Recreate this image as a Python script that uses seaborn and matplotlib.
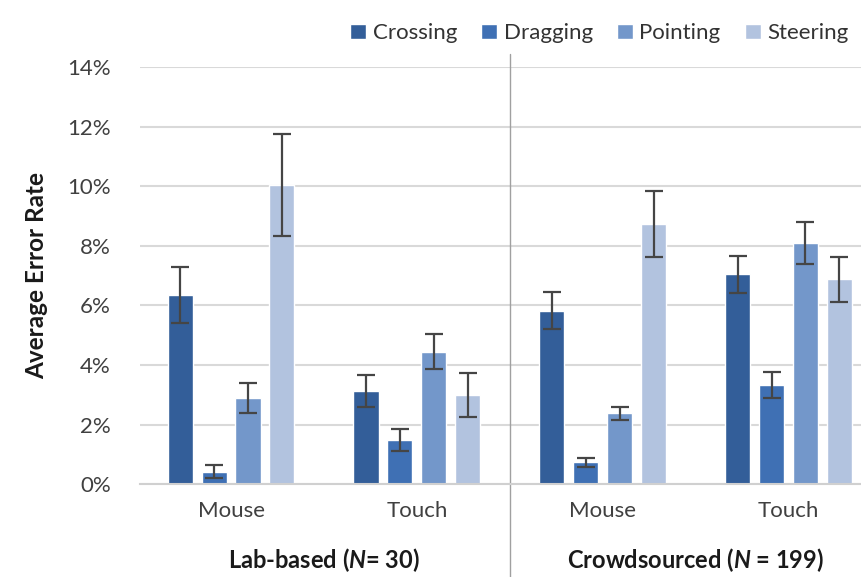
import numpy as np
import pandas as pd
import matplotlib
matplotlib.use('Agg')
import matplotlib.pyplot as plt
import matplotlib.transforms as mtransforms
from matplotlib.ticker import FuncFormatter
import seaborn as sns

# ---- data ----
conditions = ['Lab Mouse', 'Lab Touch', 'Crowd Mouse', 'Crowd Touch']
tick_labels = ['Mouse', 'Touch', 'Mouse', 'Touch']
tasks = ['Crossing', 'Dragging', 'Pointing', 'Steering']
crossing = [6.35, 3.12, 5.82, 7.04]
dragging = [0.42, 1.48, 0.73, 3.32]
pointing = [2.88, 4.45, 2.37, 8.08]
steering = [10.03, 2.99, 8.72, 6.87]
crossing_err = [0.95, 0.54, 0.63, 0.62]
dragging_err = [0.22, 0.37, 0.15, 0.44]
pointing_err = [0.50, 0.60, 0.22, 0.70]
steering_err = [1.72, 0.73, 1.10, 0.76]
group_labels = ['Lab-based ($\\mathit{N}$= 30)', 'Crowdsourced ($\\mathit{N}$ = 199)']

colors = ['#335E99', '#3F70B4', '#7397CA', '#B2C3DF']

vals = [crossing, dragging, pointing, steering]
errs = [crossing_err, dragging_err, pointing_err, steering_err]
df = pd.DataFrame({
    'condition': np.repeat([conditions], 4, axis=0).ravel(),
    'task': np.repeat(tasks, 4),
    'rate': np.ravel(vals),
    'err': np.ravel(errs),
})

sns.set_style('white')
font = ['Lato', 'DejaVu Sans']
plt.rcParams['font.family'] = font
plt.rcParams['mathtext.fontset'] = 'custom'
plt.rcParams['mathtext.it'] = 'Lato:italic:bold'
plt.rcParams['mathtext.rm'] = 'Lato:bold'

fig = plt.figure(figsize=(8.61, 5.77), dpi=100)
ax = fig.add_axes([0.1626, 0.161, 0.8374, 0.723])

sns.barplot(data=df, x='condition', y='rate', hue='task', order=conditions,
            hue_order=tasks, palette=colors, width=0.73, gap=0.26,
            errorbar=None, saturation=1, ax=ax, legend=True)

# error bars on top of each bar
for cont, task in zip(ax.containers, tasks):
    sub = df[df.task == task].set_index('condition').loc[conditions]
    xs = [p.get_x() + p.get_width() / 2 for p in cont.patches]
    ax.errorbar(xs, sub['rate'], yerr=sub['err'], fmt='none', ecolor='#454545',
                elinewidth=1.6, capsize=6.5, capthick=1.6, zorder=5)

ax.set_ylim(0, 14)
ax.set_xlim(-0.49, 3.39)
ax.set_yticks(np.arange(0, 15, 2))
ax.yaxis.set_major_formatter(FuncFormatter(lambda v, p: f'{v:.0f}%'))
ax.yaxis.grid(True, color='#D9D9D9', linewidth=1.5)
ax.set_axisbelow(True)
for s in ['top', 'right', 'left']:
    ax.spines[s].set_visible(False)
ax.spines['bottom'].set_color('#D0D0D0')
ax.spines['bottom'].set_linewidth(1.5)
ax.tick_params(axis='y', length=0, labelsize=16, colors='#404040', pad=21)
ax.tick_params(axis='x', length=0, labelsize=16, colors='#404040', pad=12)
ax.set_xticks(range(4))
ax.set_xticklabels(tick_labels)
ax.set_xlabel('')
ax.set_ylabel('Average Error Rate', fontsize=17.5, fontweight='bold',
              color='#1a1a1a', labelpad=14)

# separator between lab and crowd
trans = mtransforms.blended_transform_factory(ax.transData, ax.transAxes)
ax.plot([1.5, 1.5], [-0.28, 1.03], color='#A0A0A0', linewidth=1,
        transform=trans, clip_on=False)

# group labels
ax.text(0.5, -0.182, group_labels[0], transform=trans, ha='center', va='center',
        fontsize=17, fontweight='bold', color='#1a1a1a')
ax.text(2.5, -0.182, group_labels[1], transform=trans, ha='center', va='center',
        fontsize=17, fontweight='bold', color='#1a1a1a')

leg = ax.legend(loc='lower right', bbox_to_anchor=(0.995, 1.035), ncol=4,
                frameon=False, fontsize=16, handlelength=0.7, handleheight=0.7,
                handletextpad=0.3, columnspacing=1.1, borderaxespad=0)
for t in leg.get_texts():
    t.set_color('#333333')

fig.savefig('out.png', dpi=100)
